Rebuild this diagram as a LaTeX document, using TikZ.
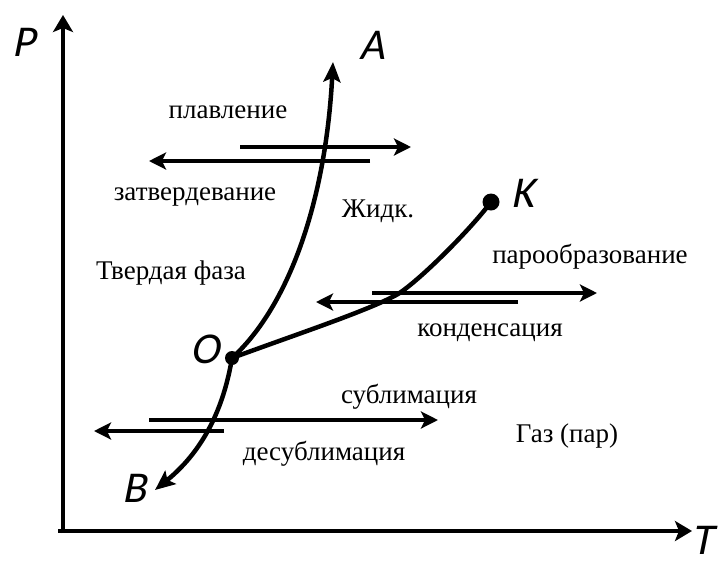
\documentclass[tikz,border=0pt]{standalone}
\usepackage{fontspec}
\setmainfont{Liberation Serif}
\newfontfamily\labfont{Carlito}[FakeSlant=0.2]
\usetikzlibrary{arrows.meta}
\begin{document}
\begin{tikzpicture}[x=1pt,y=-1pt,
  axis/.style={line width=3.5pt,-{Stealth[length=17pt,width=20pt,inset=4pt]}},
  proc/.style={line width=3.5pt,-{Stealth[length=17pt,width=17pt,inset=4pt]}},
  curve/.style={line width=4.5pt},
  curvearrow/.style={line width=4.5pt,-{Stealth[length=20pt,width=17pt,inset=4pt]}},
  ptlab/.style={font=\labfont\fontsize{44}{44}\selectfont,inner sep=0pt},
  txt/.style={font=\fontsize{27}{27}\selectfont,inner sep=0pt}]
\useasboundingbox (0,0) rectangle (723,566);
% axes
\coordinate (ptop) at (63,15);
\coordinate (tend) at (692,531);
\draw[axis] (63,533) -- (ptop);
\draw[axis] (58,531) -- (tend);
\node[ptlab] (P) at (24,42) {P};
\node[ptlab] (T) at (702,540) {T};
% points
\coordinate (O) at (232,358);
\coordinate (Atip) at (333,62);
\coordinate (Btip) at (155,490);
\coordinate (K) at (491,202);
\coordinate (kink) at (398,294);
\draw[curvearrow] (O) .. controls (285,310) and (325,210) .. (Atip);
\draw[curvearrow] (O) .. controls (225,400) and (208,447) .. (Btip);
\draw[curve] (O) .. controls (300,333) and (370,310) .. (kink)
   .. controls (420,280) and (470,230) .. (K);
\fill (K) circle (8.5pt);
\fill (O) circle (7pt);
\node[ptlab] (Alab) at (372,45) {A};
\node[ptlab] (Klab) at (523,193) {K};
\node[ptlab] (Olab) at (205,349) {O};
\node[ptlab] (Blab) at (134,488) {B};
% melting / solidification
\coordinate (m1s) at (240,147); \coordinate (m1e) at (411,147);
\coordinate (m2s) at (370,161); \coordinate (m2e) at (149,161);
\draw[proc] (m1s) -- (m1e);
\draw[proc] (m2s) -- (m2e);
% vaporization / condensation
\coordinate (v1s) at (372,293); \coordinate (v1e) at (597,293);
\coordinate (v2s) at (518,302); \coordinate (v2e) at (316,302);
\draw[proc] (v1s) -- (v1e);
\draw[proc] (v2s) -- (v2e);
% sublimation / desublimation
\coordinate (s1s) at (149,420); \coordinate (s1e) at (438,420);
\coordinate (s2s) at (224,431); \coordinate (s2e) at (94,431);
\draw[proc] (s1s) -- (s1e);
\draw[proc] (s2s) -- (s2e);
% texts
\node[txt] (t1) at (228,112) {плавление};
\node[txt] (t2) at (195,197) {затвердевание};
\node[txt] (t3) at (378,211) {Жидк.};
\node[txt] (t4) at (171,273) {Твердая фаза};
\node[txt] (t5) at (590,257) {парообразование};
\node[txt] (t6) at (490,333) {конденсация};
\node[txt] (t7) at (409,397) {сублимация};
\node[txt] (t8) at (567,436) {Газ (пар)};
\node[txt] (t9) at (324,454) {десублимация};
\end{tikzpicture}
\end{document}
